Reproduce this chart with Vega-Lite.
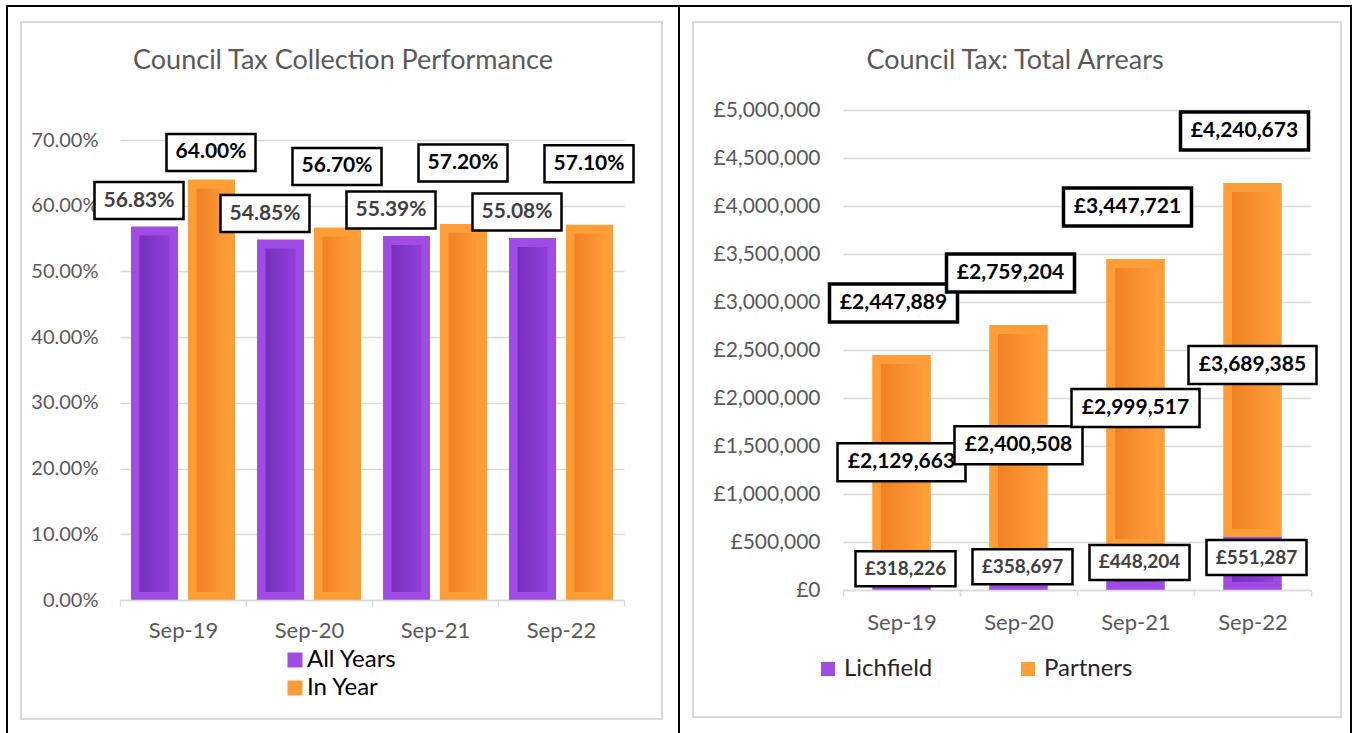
{
  "$schema": "https://vega.github.io/schema/vega-lite/v6.json",
  "padding": {"left": 6, "top": 5, "right": 0, "bottom": 0},
  "background": "white",
  "bounds": "flush",
  "spacing": 0,
  "resolve": {"scale": {"color": "independent"}, "legend": {"color": "independent"}},
  "config": {
    "view": {"stroke": "black", "strokeWidth": 2},
    "font": "Lato",
    "locale": {"number": {"decimal": ".", "thousands": ",", "grouping": [3], "currency": ["£", ""]}}
  },
  "datasets": {
    "left": [
      {"month": "Sep-19", "series": "All Years", "value": 0.5683},
      {"month": "Sep-19", "series": "In Year", "value": 0.64},
      {"month": "Sep-20", "series": "All Years", "value": 0.5485},
      {"month": "Sep-20", "series": "In Year", "value": 0.567},
      {"month": "Sep-21", "series": "All Years", "value": 0.5539},
      {"month": "Sep-21", "series": "In Year", "value": 0.572},
      {"month": "Sep-22", "series": "All Years", "value": 0.5508},
      {"month": "Sep-22", "series": "In Year", "value": 0.571}
    ],
    "right": [
      {"month": "Sep-19", "series": "Lichfield", "value": 318226},
      {"month": "Sep-19", "series": "Partners", "value": 2129663},
      {"month": "Sep-20", "series": "Lichfield", "value": 358697},
      {"month": "Sep-20", "series": "Partners", "value": 2400508},
      {"month": "Sep-21", "series": "Lichfield", "value": 448204},
      {"month": "Sep-21", "series": "Partners", "value": 2999517},
      {"month": "Sep-22", "series": "Lichfield", "value": 551287},
      {"month": "Sep-22", "series": "Partners", "value": 3689385}
    ],
    "totals": [
      {"month": "Sep-19", "total": 2447889},
      {"month": "Sep-20", "total": 2759204},
      {"month": "Sep-21", "total": 3447721},
      {"month": "Sep-22", "total": 4240673}
    ]
  },
  "hconcat": [
    {
      "width": 672,
      "height": 729,
      "title": {"text": "Council Tax Collection Performance", "offset": -69, "fontSize": 27, "fontWeight": "normal", "color": "#595959", "font": "Lato"},
      "layer": [
        {
          "data": {"values": [{}]},
          "mark": {"type": "rect", "fill": "white", "fillOpacity": 0, "stroke": "#d9d9d9", "strokeWidth": 2},
          "encoding": {
            "x": {"datum": "Sep-19", "bandPosition": -0.7857},
            "x2": {"datum": "Sep-22", "bandPosition": 1.3016},
            "y": {"datum": 0.87957, "type": "quantitative"},
            "y2": {"datum": -0.18109}
          }
        },
        {
          "data": {"name": "left"},
          "mark": {"type": "bar"},
          "encoding": {
            "x": {
              "field": "month", "type": "nominal", "title": null,
              "scale": {"domain": ["Sep-19", "Sep-20", "Sep-21", "Sep-22"], "range": [113, 617], "paddingInner": 0, "paddingOuter": 0},
              "axis": {"orient": "bottom", "offset": -135, "domain": true, "domainColor": "#d9d9d9", "domainWidth": 1.5, "ticks": true, "tickBand": "extent", "tickSize": 6, "tickColor": "#d9d9d9", "tickWidth": 1.5, "labelPadding": 24, "labelAngle": 0, "labelAlign": "center", "labelFontSize": 22, "labelFont": "Lato", "labelColor": "#595959", "grid": false}
            },
            "xOffset": {"field": "series", "type": "nominal", "scale": {"domain": ["All Years", "In Year"], "paddingInner": 0.1754, "paddingOuter": 0.193}},
            "y": {
              "field": "value", "type": "quantitative", "title": null,
              "scale": {"domain": [0, 0.7], "range": [594, 134], "nice": false, "zero": false},
              "axis": {"orient": "left", "offset": -113, "values": [0, 0.1, 0.2, 0.3, 0.4, 0.5, 0.6, 0.7], "format": ".2%", "domain": false, "ticks": false, "tickSize": 0, "labelPadding": 22, "grid": true, "gridColor": "#d9d9d9", "gridWidth": 1.5, "labelFont": "Lato", "labelFontSize": 20, "labelColor": "#595959"}
            },
            "color": {
              "field": "series", "type": "nominal",
              "scale": {"domain": ["All Years", "In Year"], "range": ["#a04be3", "#ff9d36"]},
              "legend": {"title": null, "orient": "none", "legendX": 276, "legendY": 642, "direction": "vertical", "symbolType": "square", "symbolSize": 225, "symbolStrokeWidth": 0, "labelFontSize": 24, "labelFont": "Lato", "labelColor": "black", "labelOffset": 0, "rowPadding": 4}
            }
          }
        },
        {
          "data": {"name": "left"},
          "transform": [{"filter": "datum.series === 'All Years'"}],
          "mark": {"type": "bar", "width": 30, "xOffset": -28.5, "yOffset": 9, "y2Offset": -8,
            "fill": {"gradient": "linear", "x1": 0, "y1": 0, "x2": 1, "y2": 0, "stops": [{"offset": 0, "color": "#7630bd"}, {"offset": 1, "color": "#8f3fd8"}]}},
          "encoding": {
            "x": {"field": "month", "type": "nominal"},
            "y": {"field": "value", "type": "quantitative", "title": null},
            "y2": {"datum": 0}
          }
        },
        {
          "data": {"name": "left"},
          "transform": [{"filter": "datum.series === 'In Year'"}],
          "mark": {"type": "bar", "width": 30, "xOffset": 28.5, "yOffset": 9, "y2Offset": -8,
            "fill": {"gradient": "linear", "x1": 0, "y1": 0, "x2": 1, "y2": 0, "stops": [{"offset": 0, "color": "#f08224"}, {"offset": 1, "color": "#ff9b38"}]}},
          "encoding": {
            "x": {"field": "month", "type": "nominal"},
            "y": {"field": "value", "type": "quantitative", "title": null},
            "y2": {"datum": 0}
          }
        },
        {
          "data": {"name": "left"},
          "transform": [{"filter": "datum.series === 'All Years'"}],
          "encoding": {
            "x": {"field": "month", "type": "nominal"},
            "y": {"field": "value", "type": "quantitative", "title": null},
            "text": {"field": "value", "type": "quantitative", "format": ".2%"}
          },
          "layer": [
            {"mark": {"type": "point", "shape": "M-1,-0.4157H1V0.4157H-1Z", "size": 7921, "filled": true, "fill": "white", "stroke": "black", "strokeWidth": 2.5, "opacity": 1, "xOffset": -44, "yOffset": -26}},
            {"mark": {"type": "text", "font": "Lato", "fontSize": 21, "fontWeight": "bold", "color": "#404040", "align": "center", "baseline": "middle", "xOffset": -44, "yOffset": -26}}
          ]
        },
        {
          "data": {"name": "left"},
          "transform": [{"filter": "datum.series === 'In Year' && datum.month !== 'Sep-19'"}],
          "encoding": {
            "x": {"field": "month", "type": "nominal"},
            "y": {"field": "value", "type": "quantitative", "title": null},
            "text": {"field": "value", "type": "quantitative", "format": ".2%"}
          },
          "layer": [
            {"mark": {"type": "point", "shape": "M-1,-0.4157H1V0.4157H-1Z", "size": 7921, "filled": true, "fill": "white", "stroke": "black", "strokeWidth": 2.5, "opacity": 1, "xOffset": 28, "yOffset": -61}},
            {"mark": {"type": "text", "font": "Lato", "fontSize": 21, "fontWeight": "bold", "color": "black", "align": "center", "baseline": "middle", "xOffset": 28, "yOffset": -61}}
          ]
        },
        {
          "data": {"name": "left"},
          "transform": [{"filter": "datum.series === 'In Year' && datum.month === 'Sep-19'"}],
          "encoding": {
            "x": {"field": "month", "type": "nominal"},
            "y": {"field": "value", "type": "quantitative", "title": null},
            "text": {"field": "value", "type": "quantitative", "format": ".2%"}
          },
          "layer": [
            {"mark": {"type": "point", "shape": "M-1,-0.4157H1V0.4157H-1Z", "size": 7921, "filled": true, "fill": "white", "stroke": "black", "strokeWidth": 2.5, "opacity": 1, "xOffset": 28, "yOffset": -27}},
            {"mark": {"type": "text", "font": "Lato", "fontSize": 21, "fontWeight": "bold", "color": "black", "align": "center", "baseline": "middle", "xOffset": 28, "yOffset": -27}}
          ]
        }
      ]
    },
    {
      "width": 672,
      "height": 729,
      "title": {"text": "Council Tax: Total Arrears", "offset": -69, "fontSize": 27, "fontWeight": "normal", "color": "#595959", "font": "Lato"},
      "layer": [
        {
          "data": {"values": [{}]},
          "mark": {"type": "rect", "fill": "white", "fillOpacity": 0, "stroke": "#d9d9d9", "strokeWidth": 2},
          "encoding": {
            "x": {"datum": "Sep-19", "bandPosition": -1.282},
            "x2": {"datum": "Sep-22", "bandPosition": 1.2564},
            "y": {"datum": 5916667, "type": "quantitative"},
            "y2": {"datum": -1322917}
          }
        },
        {
          "data": {"name": "right"},
          "mark": {"type": "bar", "width": {"band": 0.5}},
          "encoding": {
            "x": {
              "field": "month", "type": "nominal", "title": null,
              "scale": {"domain": ["Sep-19", "Sep-20", "Sep-21", "Sep-22"], "range": [164, 632], "paddingInner": 0, "paddingOuter": 0},
              "axis": {"orient": "bottom", "offset": -145, "domain": true, "domainColor": "#d9d9d9", "domainWidth": 1.5, "ticks": true, "tickBand": "extent", "tickSize": 6, "tickColor": "#d9d9d9", "tickWidth": 1.5, "labelPadding": 26, "labelAngle": 0, "labelAlign": "center", "labelFontSize": 22, "labelFont": "Lato", "labelColor": "#595959", "grid": false}
            },
            "y": {
              "field": "value", "type": "quantitative", "title": null, "stack": "zero",
              "scale": {"domain": [0, 5000000], "range": [584, 104], "nice": false, "zero": false},
              "axis": {"orient": "left", "offset": -164, "values": [0, 500000, 1000000, 1500000, 2000000, 2500000, 3000000, 3500000, 4000000, 4500000, 5000000], "format": "$,.0f", "domain": false, "ticks": false, "tickSize": 0, "labelPadding": 23, "grid": true, "gridColor": "#d9d9d9", "gridWidth": 1.5, "labelFont": "Lato", "labelFontSize": 21, "labelColor": "#595959"}
            },
            "order": {"field": "series", "type": "nominal", "sort": "ascending"},
            "color": {
              "field": "series", "type": "nominal",
              "scale": {"domain": ["Lichfield", "Partners"], "range": ["#a04be3", "#ff9d36"]},
              "legend": {"title": null, "orient": "none", "legendX": 137, "legendY": 651, "direction": "horizontal", "symbolType": "square", "symbolSize": 196, "symbolStrokeWidth": 0, "labelFontSize": 24, "labelFont": "Lato", "labelColor": "#262626", "labelOffset": 4, "columnPadding": 83}
            }
          }
        },
        {
          "data": {"name": "right"},
          "transform": [
            {"stack": "value", "groupby": ["month"], "sort": [{"field": "series", "order": "ascending"}], "as": ["v0", "v1"]},
            {"filter": "datum.series === 'Lichfield'"}
          ],
          "mark": {"type": "bar", "width": {"band": 0.35}, "yOffset": 9, "y2Offset": -8,
            "fill": {"gradient": "linear", "x1": 0, "y1": 0, "x2": 1, "y2": 0, "stops": [{"offset": 0, "color": "#7630bd"}, {"offset": 1, "color": "#8f3fd8"}]}},
          "encoding": {
            "x": {"field": "month", "type": "nominal"},
            "y": {"field": "v1", "type": "quantitative", "title": null},
            "y2": {"field": "v0"}
          }
        },
        {
          "data": {"name": "right"},
          "transform": [
            {"stack": "value", "groupby": ["month"], "sort": [{"field": "series", "order": "ascending"}], "as": ["v0", "v1"]},
            {"filter": "datum.series === 'Partners'"}
          ],
          "mark": {"type": "bar", "width": {"band": 0.35}, "yOffset": 9, "y2Offset": -8,
            "fill": {"gradient": "linear", "x1": 0, "y1": 0, "x2": 1, "y2": 0, "stops": [{"offset": 0, "color": "#f08224"}, {"offset": 1, "color": "#ff9b38"}]}},
          "encoding": {
            "x": {"field": "month", "type": "nominal"},
            "y": {"field": "v1", "type": "quantitative", "title": null},
            "y2": {"field": "v0"}
          }
        },
        {
          "data": {"name": "totals"},
          "encoding": {
            "x": {"field": "month", "type": "nominal"},
            "y": {"field": "total", "type": "quantitative", "title": null},
            "text": {"field": "total", "type": "quantitative", "format": "$,.0f"}
          },
          "layer": [
            {"mark": {"type": "point", "shape": "M-1,-0.297H1V0.297H-1Z", "size": 16384, "filled": true, "fill": "white", "stroke": "black", "strokeWidth": 3.5, "opacity": 1, "xOffset": -8, "yOffset": -52}},
            {"mark": {"type": "text", "font": "Lato", "fontSize": 21, "fontWeight": "bold", "color": "black", "align": "center", "baseline": "middle", "xOffset": -8, "yOffset": -52}}
          ]
        },
        {
          "data": {"name": "right"},
          "transform": [
            {"stack": "value", "groupby": ["month"], "sort": [{"field": "series", "order": "ascending"}], "as": ["v0", "v1"]},
            {"fold": ["v0", "v1"], "as": ["edge", "pos"]},
            {"aggregate": [{"op": "mean", "field": "pos", "as": "mid"}], "groupby": ["month", "series", "value"]},
            {"filter": "datum.series === 'Partners'"}
          ],
          "encoding": {
            "x": {"field": "month", "type": "nominal"},
            "y": {"field": "mid", "type": "quantitative", "title": null},
            "text": {"field": "value", "type": "quantitative", "format": "$,.0f"}
          },
          "layer": [
            {"mark": {"type": "point", "shape": "M-1,-0.297H1V0.297H-1Z", "size": 16384, "filled": true, "fill": "white", "stroke": "black", "strokeWidth": 2.5, "opacity": 1, "yOffset": 5}},
            {"mark": {"type": "text", "font": "Lato", "fontSize": 21, "fontWeight": "bold", "color": "black", "align": "center", "baseline": "middle", "yOffset": 5}}
          ]
        },
        {
          "data": {"name": "right"},
          "transform": [
            {"stack": "value", "groupby": ["month"], "sort": [{"field": "series", "order": "ascending"}], "as": ["v0", "v1"]},
            {"fold": ["v0", "v1"], "as": ["edge", "pos"]},
            {"aggregate": [{"op": "mean", "field": "pos", "as": "mid"}], "groupby": ["month", "series", "value"]},
            {"filter": "datum.series === 'Lichfield'"}
          ],
          "encoding": {
            "x": {"field": "month", "type": "nominal"},
            "y": {"field": "mid", "type": "quantitative", "title": null},
            "text": {"field": "value", "type": "quantitative", "format": "$,.0f"}
          },
          "layer": [
            {"mark": {"type": "point", "shape": "M-1,-0.35H1V0.35H-1Z", "size": 10000, "filled": true, "fill": "white", "stroke": "black", "strokeWidth": 2.5, "opacity": 1, "xOffset": 4, "yOffset": -6}},
            {"mark": {"type": "text", "font": "Lato", "fontSize": 19, "fontWeight": "bold", "color": "#404040", "align": "center", "baseline": "middle", "xOffset": 4, "yOffset": -6}}
          ]
        }
      ]
    }
  ]
}
